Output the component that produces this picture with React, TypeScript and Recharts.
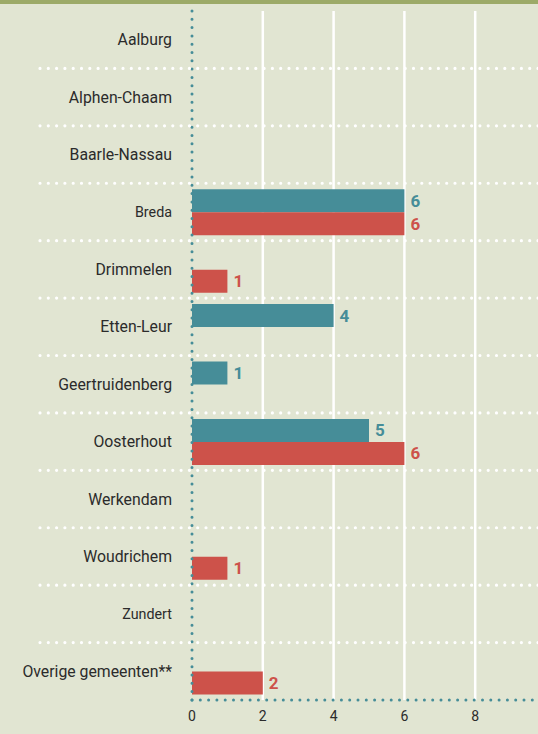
import { Bar, BarChart, CartesianGrid, LabelList, XAxis, YAxis } from "recharts";

const gemeenten = [
  "Aalburg",
  "Alphen-Chaam",
  "Baarle-Nassau",
  "Breda",
  "Drimmelen",
  "Etten-Leur",
  "Geertruidenberg",
  "Oosterhout",
  "Werkendam",
  "Woudrichem",
  "Zundert",
  "Overige gemeenten**",
];
const serieA = [0, 0, 0, 6, 0, 4, 1, 5, 0, 0, 0, 0];
const serieB = [0, 0, 0, 6, 1, 0, 0, 6, 0, 1, 0, 2];
const xTicks = [0, 2, 4, 6, 8];
const gridTicks = [2, 4, 6, 8];
const smallLabels = ["Breda", "Zundert"];

const data = gemeenten.map((name, i) => ({ name, a: serieA[i], b: serieB[i] }));

const TEAL = "#468d98";
const RED = "#cd524a";
const BG = "#e1e5d2";

const W = 560;
const H = 734;
const TOP = 11;
const BOTTOM = 4;
const XAXIS_H = 30;
const BAND = (H - TOP - BOTTOM - XAXIS_H) / gemeenten.length;

function GemeenteTick(props: any) {
  const { x, y, payload, index } = props;
  const small = smallLabels.includes(payload.value);
  return (
    <g>
      <text
        x={x}
        y={y}
        dy="0.35em"
        textAnchor="end"
        fontSize={small ? 14.3 : 15.8}
        fill="#2b2b2b"
        fontFamily="Roboto, sans-serif"
      >
        {payload.value}
      </text>
      {index < gemeenten.length - 1 && (
        <line
          x1={40}
          x2={W}
          y1={y + BAND / 2}
          y2={y + BAND / 2}
          stroke="#ffffff"
          strokeWidth={3.2}
          strokeDasharray="0 8.3"
          strokeLinecap="round"
        />
      )}
    </g>
  );
}

const hideZero = (v: any) => (v ? v : "");

// grid only at 2,4,6,8 (not on the zero axis)
const gridX = ({ xAxis, offset }: any) =>
  gridTicks.map((v) => {
    const s = xAxis?.scale;
    if (typeof s === "function") return s(v);
    if (s && typeof s.map === "function") return s.map(v);
    return offset.left + (v / 10) * offset.width;
  });

export default function App() {
  return (
    <div
      style={{
        position: "fixed",
        top: 0,
        left: 0,
        width: 538,
        height: 734,
        overflow: "hidden",
        background: BG,
        fontFamily: "Roboto, sans-serif",
      }}
    >
      <div style={{ position: "absolute", top: 0, left: 0, width: 538, height: 4, background: "#9caa68", zIndex: 2 }} />
      <BarChart
        width={W}
        height={H}
        data={data}
        layout="vertical"
        margin={{ top: TOP, right: 14, bottom: BOTTOM, left: 0 }}
        barGap={0}
        barSize={23}
      >
        <CartesianGrid
          horizontal={false}
          stroke="#ffffff"
          strokeWidth={2.5}
          verticalCoordinatesGenerator={gridX}
        />
        <XAxis
          type="number"
          domain={[0, 10]}
          ticks={xTicks}
          height={XAXIS_H}
          tickLine={false}
          axisLine={{ stroke: TEAL, strokeWidth: 3, strokeDasharray: "0 8.3", strokeLinecap: "round" }}
          tick={{ fontSize: 14, fill: "#2b2b2b", dy: 3 }}
          interval={0}
        />
        <YAxis
          type="category"
          dataKey="name"
          width={192}
          tickLine={false}
          tickSize={0}
          tickMargin={20}
          interval={0}
          axisLine={{ stroke: TEAL, strokeWidth: 3, strokeDasharray: "0 8.3", strokeLinecap: "round" }}
          tick={<GemeenteTick />}
        />
        <Bar dataKey="a" fill={TEAL} isAnimationActive={false}>
          <LabelList
            dataKey="a"
            position="right"
            offset={6}
            formatter={hideZero}
            fill={TEAL}
            fontSize={17}
            fontWeight="bold"
          />
        </Bar>
        <Bar dataKey="b" fill={RED} isAnimationActive={false}>
          <LabelList
            dataKey="b"
            position="right"
            offset={6}
            formatter={hideZero}
            fill={RED}
            fontSize={17}
            fontWeight="bold"
          />
        </Bar>
      </BarChart>
    </div>
  );
}
